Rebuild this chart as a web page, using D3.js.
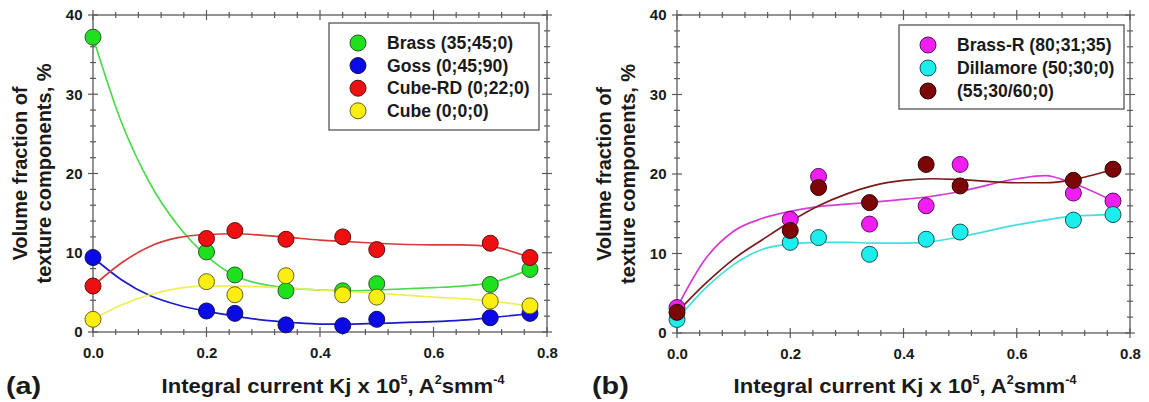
<!DOCTYPE html>
<html>
<head>
<script src="https://d3js.org/d3.v7.min.js"></script>
<style>
    body { margin: 0; background: #fff; font-family: Arial, "Liberation Sans", sans-serif; }
    svg text { font-weight: bold; fill: #1a1a1a; }
</style>
</head>
<body>
<script>
    // measured points (same x for every series)
    var xVals = [0, 0.2, 0.25, 0.34, 0.44, 0.5, 0.7, 0.77];

    // panel (a)
    var brass  = [37.2, 10.1, 7.2, 5.2, 5.2, 6.1, 6.0, 7.9];
    var goss   = [9.4, 2.65, 2.35, 0.9, 0.8, 1.6, 1.8, 2.35];
    var cubeRD = [5.8, 11.8, 12.8, 11.7, 12.0, 10.4, 11.2, 9.4];
    var cube   = [1.6, 6.35, 4.7, 7.1, 4.7, 4.4, 3.9, 3.3];

    // panel (b)
    var brassR    = [3.2, 14.3, 19.7, 13.7, 16.0, 21.2, 17.6, 16.6];
    var dillamore = [1.7, 11.4, 12.0, 9.9, 11.8, 12.7, 14.2, 14.9];
    var comp55    = [2.6, 12.9, 18.3, 16.4, 21.2, 18.5, 19.2, 20.6];

    // fitted curves
    var fitX = [0, 0.05, 0.1, 0.15, 0.2, 0.25, 0.3, 0.35, 0.4, 0.45, 0.5, 0.6, 0.65, 0.7, 0.77];
    var brassFit  = [37.2, 26.5, 18.8, 13.4, 9.6, 7.1, 6.0, 5.5, 5.3, 5.2, 5.3, 5.6, 5.8, 6.2, 7.9];
    var gossFit   = [9.4, 6.6, 4.6, 3.4, 2.6, 2.0, 1.5, 1.2, 1.0, 1.0, 1.1, 1.3, 1.5, 1.8, 2.3];
    var cubeRDFit = [5.8, 8.7, 10.8, 11.9, 12.3, 12.4, 12.2, 11.9, 11.6, 11.4, 11.2, 11.0, 11.0, 10.8, 9.4];
    var cubeFit   = [1.6, 3.4, 4.7, 5.5, 5.8, 5.8, 5.7, 5.5, 5.3, 5.1, 4.9, 4.4, 4.2, 3.9, 3.3];
    var brassRFit    = [3.2, 9.3, 12.8, 14.4, 15.3, 15.9, 16.2, 16.5, 16.8, 17.2, 17.8, 19.4, 19.8, 18.8, 16.6];
    var dillamoreFit = [1.7, 5.6, 8.6, 10.5, 11.2, 11.4, 11.4, 11.3, 11.3, 11.5, 12.1, 13.6, 14.2, 14.7, 14.9];
    var comp55Fit    = [2.6, 6.2, 9.3, 11.7, 14.0, 16.0, 17.5, 18.6, 19.2, 19.4, 19.3, 18.9, 18.9, 19.3, 20.6];

    var xTickLabels = ["0.0", "0.2", "0.4", "0.6", "0.8"];
    var yTickLabels = ["0", "10", "20", "30", "40"];

    var panelA = {
        tag: "(a)", tagX: 6, titleX: 333,
        left: 93, right: 547, top: 15, bottom: 332,
        legend: { x: 329, y: 23, w: 210, h: 107, rowH: 22.6 },
        series: [
            { name: "Brass (35;45;0)", pts: brass, fit: brassFit, fill: "#1ee01e", line: "#4fd94f", edge: "#2a5a2a" },
            { name: "Goss (0;45;90)", pts: goss, fit: gossFit, fill: "#0a0ae6", line: "#1c1cc8", edge: "#101050" },
            { name: "Cube-RD (0;22;0)", pts: cubeRD, fit: cubeRDFit, fill: "#ee1010", line: "#d83a3a", edge: "#5a1010" },
            { name: "Cube (0;0;0)", pts: cube, fit: cubeFit, fill: "#fbee10", line: "#eeee55", edge: "#6a6020" }
        ]
    };
    var panelB = {
        tag: "(b)", tagX: 592, titleX: 905,
        left: 677, right: 1130, top: 15, bottom: 333,
        legend: { x: 899, y: 25, w: 225, h: 84, rowH: 23 },
        series: [
            { name: "Brass-R (80;31;35)", pts: brassR, fit: brassRFit, fill: "#f01ef0", line: "#d43ad4", edge: "#5a105a" },
            { name: "Dillamore (50;30;0)", pts: dillamore, fit: dillamoreFit, fill: "#1ceeee", line: "#45dede", edge: "#1a5050" },
            { name: "(55;30/60;0)", pts: comp55, fit: comp55Fit, fill: "#7c0606", line: "#7a1a1a", edge: "#2a0000" }
        ]
    };

    var svg = d3.select("body").append("svg")
        .attr("width", 1149)
        .attr("height", 402);

    function drawPanel(p) {
        var x = d3.scaleLinear().domain([0, 0.8]).range([p.left, p.right]);
        var y = d3.scaleLinear().domain([0, 40]).range([p.bottom, p.top]);
        var g = svg.append("g");
        var axisColor = "#5a5a5a";

        // frame
        g.append("rect")
            .attr("x", p.left).attr("y", p.top)
            .attr("width", p.right - p.left).attr("height", p.bottom - p.top)
            .attr("fill", "none").attr("stroke", axisColor).attr("stroke-width", 1.3);

        // crossing ticks on all four sides
        var xt = d3.range(0, 0.8001, 0.04);
        var yt = d3.range(0, 40.001, 2);
        [p.bottom, p.top].forEach(function(yy) {
            g.selectAll(null).data(xt).enter().append("line")
                .attr("x1", function(d) { return x(d); }).attr("x2", function(d) { return x(d); })
                .attr("y1", function(d, i) { return yy - (i % 5 == 0 ? 5 : 3); })
                .attr("y2", function(d, i) { return yy + (i % 5 == 0 ? 5 : 3); })
                .attr("stroke", axisColor).attr("stroke-width", 1.2);
        });
        [p.left, p.right].forEach(function(xx) {
            g.selectAll(null).data(yt).enter().append("line")
                .attr("y1", function(d) { return y(d); }).attr("y2", function(d) { return y(d); })
                .attr("x1", function(d, i) { return xx - (i % 5 == 0 ? 5 : 3); })
                .attr("x2", function(d, i) { return xx + (i % 5 == 0 ? 5 : 3); })
                .attr("stroke", axisColor).attr("stroke-width", 1.2);
        });

        // tick labels through d3 axes
        var xAxis = g.append("g")
            .attr("transform", "translate(0," + p.bottom + ")")
            .call(d3.axisBottom(x).tickValues([0, 0.2, 0.4, 0.6, 0.8])
                .tickFormat(function(d, i) { return xTickLabels[i]; })
                .tickSize(0).tickPadding(15));
        xAxis.select(".domain").remove();
        xAxis.selectAll("text").style("font-size", "15px").attr("fill", "#1a1a1a");

        var yAxis = g.append("g")
            .attr("transform", "translate(" + p.left + ",0)")
            .call(d3.axisLeft(y).tickValues([0, 10, 20, 30, 40])
                .tickFormat(function(d, i) { return yTickLabels[i]; })
                .tickSize(0).tickPadding(10.5));
        yAxis.select(".domain").remove();
        yAxis.selectAll("text").style("font-size", "15px").attr("fill", "#1a1a1a");

        // y title
        var yt1 = g.append("text")
            .attr("transform", "translate(" + (p.left - 66) + "," + ((p.top + p.bottom) / 2) + ") rotate(-90)")
            .attr("text-anchor", "middle")
            .style("font-size", "20px");
        yt1.append("tspan").attr("x", 0).attr("dy", 0).text("Volume fraction of");
        yt1.append("tspan").attr("x", 0).attr("dy", 24).text("texture components, %");

        // x title
        var xt1 = g.append("text")
            .attr("transform", "translate(" + p.titleX + ",393) scale(1.05,1)")
            .attr("text-anchor", "middle")
            .style("font-size", "21px");
        xt1.append("tspan").text("Integral current Kj x 10");
        xt1.append("tspan").attr("dy", -9).style("font-size", "12px").text("5");
        xt1.append("tspan").attr("dy", 9).text(", A");
        xt1.append("tspan").attr("dy", -9).style("font-size", "12px").text("2");
        xt1.append("tspan").attr("dy", 9).text("smm");
        xt1.append("tspan").attr("dy", -9).style("font-size", "12px").text("-4");

        // panel tag
        g.append("text")
            .attr("transform", "translate(" + p.tagX + ",393.5) scale(1.2,1)")
            .style("font-size", "24px")
            .text(p.tag);

        // fitted curves
        var line = d3.line()
            .x(function(d) { return x(d[0]); })
            .y(function(d) { return y(d[1]); })
            .curve(d3.curveMonotoneX);
        p.series.forEach(function(s) {
            g.append("path")
                .datum(fitX.map(function(v, i) { return [v, s.fit[i]]; }))
                .attr("d", line)
                .attr("fill", "none")
                .attr("stroke", s.line)
                .attr("stroke-width", 1.7);
        });

        // markers
        p.series.forEach(function(s) {
            g.selectAll(null)
                .data(xVals.map(function(v, i) { return [v, s.pts[i]]; }))
                .enter().append("circle")
                .attr("cx", function(d) { return x(d[0]); })
                .attr("cy", function(d) { return y(d[1]); })
                .attr("r", 8)
                .attr("fill", s.fill)
                .attr("stroke", s.edge)
                .attr("stroke-width", 1);
        });

        // legend
        var L = p.legend;
        var lg = g.append("g");
        lg.append("rect")
            .attr("x", L.x).attr("y", L.y).attr("width", L.w).attr("height", L.h)
            .attr("fill", "#fff").attr("stroke", "#555").attr("stroke-width", 1.3);
        p.series.forEach(function(s, i) {
            var cy = L.y + 20 + i * L.rowH;
            lg.append("circle")
                .attr("cx", L.x + 29).attr("cy", cy).attr("r", 8)
                .attr("fill", s.fill).attr("stroke", s.edge).attr("stroke-width", 1);
            lg.append("text")
                .attr("x", L.x + 58).attr("y", cy + 6)
                .style("font-size", "17.6px")
                .text(s.name);
        });
    }

    drawPanel(panelA);
    drawPanel(panelB);
</script>
</body>
</html>
